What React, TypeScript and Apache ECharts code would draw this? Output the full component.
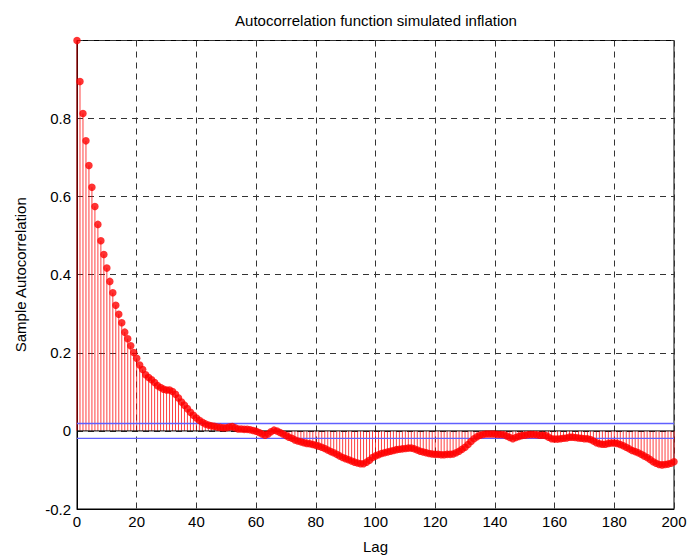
import React, { useEffect, useRef } from "react";
import * as echarts from "echarts";

const lags: number[] = Array.from({ length: 201 }, (_, i) => i);

const acf: number[] = [
  1.0, 0.895, 0.813, 0.743, 0.68, 0.624, 0.575, 0.529, 0.487, 0.452,
  0.417, 0.383, 0.354, 0.322, 0.299, 0.277, 0.253, 0.236, 0.218, 0.201,
  0.186, 0.169, 0.157, 0.144, 0.137, 0.131, 0.124, 0.116, 0.111, 0.107,
  0.105, 0.105, 0.101, 0.094, 0.084, 0.074, 0.066, 0.057, 0.048, 0.04,
  0.033, 0.027, 0.022, 0.018, 0.015, 0.013, 0.012, 0.01, 0.009, 0.008,
  0.008, 0.01, 0.011, 0.008, 0.005, 0.005, 0.004, 0.004, 0.003, 0.001,
  -0.001, -0.004, -0.008, -0.011, -0.008, -0.002, 0.002, 0.0, -0.004, -0.008,
  -0.012, -0.016, -0.019, -0.023, -0.026, -0.028, -0.03, -0.032, -0.033, -0.035,
  -0.037, -0.039, -0.042, -0.045, -0.049, -0.053, -0.056, -0.06, -0.064, -0.068,
  -0.071, -0.074, -0.077, -0.08, -0.082, -0.084, -0.084, -0.08, -0.075, -0.068,
  -0.064, -0.061, -0.058, -0.056, -0.054, -0.052, -0.05, -0.048, -0.047, -0.046,
  -0.045, -0.044, -0.044, -0.046, -0.049, -0.052, -0.054, -0.056, -0.058, -0.059,
  -0.06, -0.06, -0.061, -0.061, -0.06, -0.06, -0.059, -0.056, -0.052, -0.047,
  -0.042, -0.035, -0.027, -0.02, -0.015, -0.011, -0.009, -0.008, -0.008, -0.008,
  -0.008, -0.009, -0.009, -0.01, -0.013, -0.017, -0.02, -0.017, -0.014, -0.012,
  -0.011, -0.01, -0.009, -0.009, -0.01, -0.011, -0.011, -0.012, -0.016, -0.02,
  -0.021, -0.021, -0.02, -0.019, -0.018, -0.016, -0.016, -0.017, -0.018, -0.019,
  -0.02, -0.02, -0.022, -0.026, -0.03, -0.033, -0.034, -0.034, -0.032, -0.031,
  -0.031, -0.032, -0.035, -0.038, -0.042, -0.046, -0.05, -0.053, -0.056, -0.06,
  -0.064, -0.068, -0.073, -0.079, -0.083, -0.086, -0.087, -0.086, -0.085, -0.083,
  -0.079,
];

const bounds: number[] = [0.019, -0.019];
const xRange: number[] = [0, 200];
const yRange: number[] = [-0.2, 1];

const FONT = "'Liberation Sans', Arial, sans-serif";
const FS = 15;

export default function App() {
  const ref = useRef<HTMLDivElement>(null);

  useEffect(() => {
    if (!ref.current) return;
    const chart = echarts.init(ref.current, undefined, { renderer: "svg" });
    const pts = lags.map((l, i) => [l, acf[i]]);

    const option: any = {
      animation: false,
      backgroundColor: "#ffffff",
      graphic: [
        {
          type: "text",
          x: 376,
          y: 20,
          style: {
            text: "Autocorrelation function simulated inflation",
            fontFamily: FONT,
            fontSize: FS,
            fill: "#000",
            textAlign: "center",
            textVerticalAlign: "middle",
          },
        },
      ],
      grid: {
        left: 77,
        right: 16,
        top: 40.5,
        bottom: 49.5,
        show: true,
        borderColor: "#000",
        borderWidth: 1,
        backgroundColor: "transparent",
      },
      xAxis: {
        type: "value",
        min: xRange[0],
        max: xRange[1],
        interval: 20,
        name: "Lag",
        nameLocation: "middle",
        nameGap: 30,
        nameTextStyle: { fontFamily: FONT, fontSize: FS, color: "#000" },
        axisLine: { show: true, onZero: false, lineStyle: { color: "#000" } },
        axisTick: { show: false },
        axisLabel: { fontFamily: FONT, fontSize: FS, color: "#000", margin: 5 },
        splitLine: {
          show: true,
          lineStyle: { color: "#333", type: [6, 5], width: 1 },
        },
      },
      yAxis: {
        type: "value",
        min: yRange[0],
        max: yRange[1],
        interval: 0.2,
        name: "Sample Autocorrelation",
        nameLocation: "middle",
        nameGap: 49,
        nameRotate: 90,
        nameTextStyle: { fontFamily: FONT, fontSize: FS, color: "#000" },
        axisLine: { show: true, onZero: false, lineStyle: { color: "#000" } },
        axisTick: { show: false },
        axisLabel: {
          fontFamily: FONT,
          fontSize: FS,
          color: "#000",
          margin: 6,
          formatter: (v: number) => {
            const r = Math.round(v * 10) / 10;
            if (Math.abs(r - 1) < 1e-9) return "";
            return String(r);
          },
        },
        splitLine: {
          show: true,
          lineStyle: { color: "#333", type: [6, 5], width: 1 },
        },
      },
      series: [
        {
          type: "custom",
          data: pts,
          z: 2,
          renderItem: (params: any, api: any) => {
            const x = api.value(0);
            const y = api.value(1);
            const p0 = api.coord([x, 0]);
            const p1 = api.coord([x, y]);
            return {
              type: "line",
              shape: { x1: p0[0], y1: p0[1], x2: p1[0], y2: p1[1] },
              style: { stroke: "rgba(255,0,0,0.75)", lineWidth: 1 },
            };
          },
        },
        {
          type: "line",
          data: [
            [xRange[0], 0],
            [xRange[1], 0],
          ],
          symbol: "none",
          z: 3,
          lineStyle: { color: "#000", width: 1 },
        },
        ...bounds.map((b) => ({
          type: "line",
          data: [
            [xRange[0], b],
            [xRange[1], b],
          ],
          symbol: "none",
          z: 4,
          lineStyle: { color: "#6060ff", width: 1.3 },
        })),
        {
          type: "scatter",
          data: pts,
          symbol: "circle",
          symbolSize: 7.5,
          z: 5,
          itemStyle: { color: "#ff0000" },
        },
      ],
    };
    chart.setOption(option);
    return () => chart.dispose();
  }, []);

  return (
    <div
      ref={ref}
      style={{ position: "fixed", left: 0, top: 0, width: 690, height: 559 }}
    />
  );
}
